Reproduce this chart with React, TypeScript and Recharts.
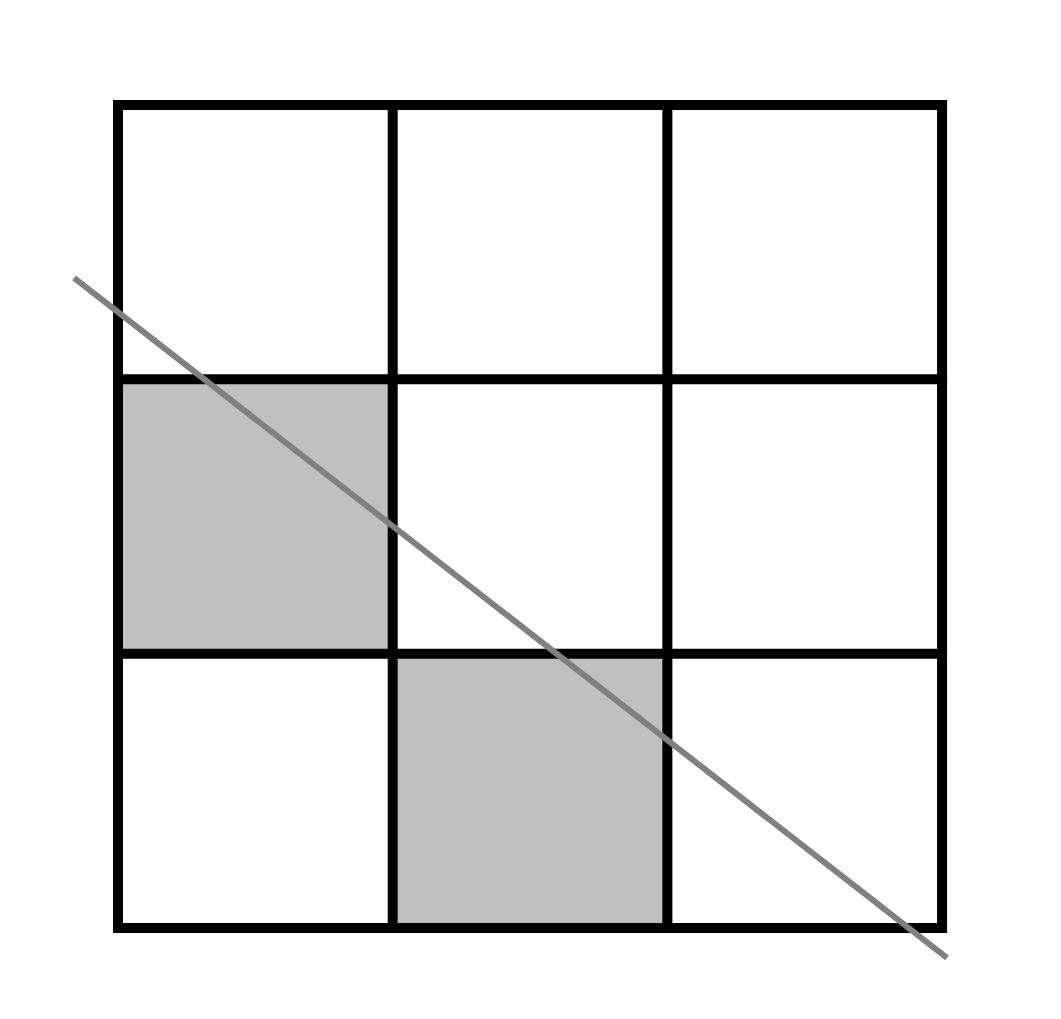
import { LineChart, Line, XAxis, YAxis, ReferenceLine, ReferenceArea } from 'recharts'

// grid divisions (cell boundaries)
const gridTicks = [0, 1, 2, 3]
// shaded cells: [x1, x2, y1, y2]
const shadedCells = [
  { x1: 0, x2: 1, y1: 1, y2: 2 },
  { x1: 1, x2: 2, y1: 0, y2: 1 },
]
// the diagonal line
const diagonal = [
  { x: -0.16, y: 2.37 },
  { x: 3.018, y: -0.109 },
]

export default function App() {
  return (
    <LineChart
      width={1053}
      height={1011}
      data={diagonal}
      margin={{ top: 0, right: 0, bottom: 0, left: 0 }}
    >
      <XAxis type="number" dataKey="x" domain={[-0.4005, 3.433]} hide allowDataOverflow />
      <YAxis type="number" domain={[-0.3317, 3.3536]} hide allowDataOverflow />
      {shadedCells.map((c, i) => (
        <ReferenceArea
          key={i}
          x1={c.x1}
          x2={c.x2}
          y1={c.y1}
          y2={c.y2}
          fill="#c0c0c0"
          fillOpacity={1}
          stroke="none"
        />
      ))}
      {gridTicks.map((t) => (
        <ReferenceLine
          key={'v' + t}
          segment={[{ x: t, y: 0 }, { x: t, y: 3 }]}
          stroke="#000"
          strokeWidth={10}
          strokeLinecap="square"
        />
      ))}
      {gridTicks.map((t) => (
        <ReferenceLine
          key={'h' + t}
          segment={[{ x: 0, y: t }, { x: 3, y: t }]}
          stroke="#000"
          strokeWidth={10}
          strokeLinecap="square"
        />
      ))}
      <Line
        type="linear"
        dataKey="y"
        stroke="#808080"
        strokeWidth={6}
        dot={false}
        isAnimationActive={false}
      />
    </LineChart>
  )
}
